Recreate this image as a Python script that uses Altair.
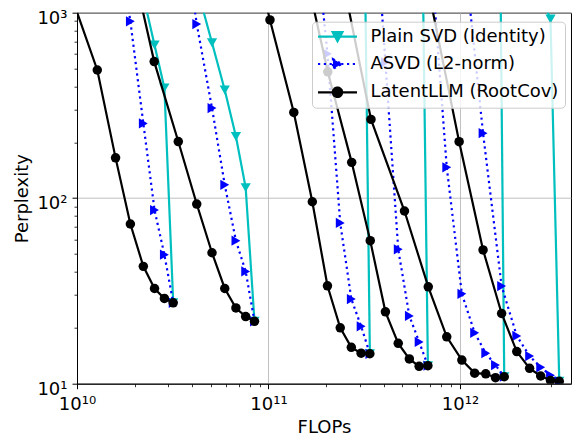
import altair as alt
import pandas as pd

FONT = "DejaVu Sans"

methods = ["Plain SVD (Identity)", "ASVD (L2-norm)", "LatentLLM (RootCov)"]
colors = ["#00bfbf", "#0000ff", "#000000"]

# FLOPs / perplexity per model size (one inner list per model)
plain_flops = [
    [2.22e10, 2.54e10, 2.86e10, 3.18e10],
    [4.22e10, 5.07e10, 5.91e10, 6.76e10, 7.60e10, 8.45e10],
    [2.95e11, 3.384e11],
    [5.90e11, 6.80e11],
    [1.533e12, 1.703e12],
    [2.64e12, 2.97e12, 3.30e12],
]
plain_ppl = [
    [1230, 670, 393, 27.3],
    [1380, 689, 383, 215, 114, 21.7],
    [1e6, 14.5],
    [1e6, 12.5],
    [1e6, 10.9],
    [1230, 925, 10.3],
]
asvd_flops = [
    [1.59e10, 1.90e10, 2.22e10, 2.54e10, 2.86e10, 3.18e10],
    [3.38e10, 4.22e10, 5.07e10, 5.91e10, 6.76e10, 7.60e10, 8.45e10],
    [1.694e11, 2.032e11, 2.37e11, 2.708e11, 3.046e11, 3.384e11],
    [3.40e11, 4.08e11, 4.76e11, 5.44e11, 6.12e11, 6.80e11],
    [6.83e11, 8.53e11, 1.023e12, 1.193e12, 1.363e12, 1.533e12, 1.703e12],
    [0.99e12, 1.32e12, 1.65e12, 1.98e12, 2.31e12, 2.64e12, 2.97e12, 3.30e12],
]
asvd_ppl = [
    [3000, 898, 253, 86.3, 49.6, 27.3],
    [4500, 869, 306, 118, 59.0, 40.3, 21.7],
    [3900, 600, 73.5, 28.6, 20.4, 14.5],
    [8500, 540, 53.0, 23.2, 16.8, 12.5],
    [3200, 146.8, 30.5, 18.8, 14.6, 12.6, 10.9],
    [3850, 224, 33.6, 18.1, 14.1, 12.25, 11.1, 10.3],
]
latent_flops = [
    [0.956e10, 1.276e10, 1.59e10, 1.90e10, 2.22e10, 2.54e10, 2.86e10, 3.18e10],
    [1.69e10, 2.53e10, 3.38e10, 4.22e10, 5.07e10, 5.91e10, 6.76e10, 7.60e10, 8.45e10],
    [0.68e11, 1.018e11, 1.356e11, 1.694e11, 2.032e11, 2.37e11, 2.708e11, 3.046e11, 3.384e11],
    [1.36e11, 2.04e11, 2.72e11, 3.40e11, 4.08e11, 4.76e11, 5.44e11, 6.12e11, 6.80e11],
    [1.73e11, 3.43e11, 5.13e11, 6.83e11, 8.53e11, 1.023e12, 1.193e12, 1.363e12, 1.533e12, 1.703e12],
    [0.66e12, 0.99e12, 1.32e12, 1.65e12, 1.98e12, 2.31e12, 2.64e12, 2.97e12, 3.30e12],
]
latent_ppl = [
    [1150, 491, 165, 72.6, 42.9, 32.6, 28.8, 27.3],
    [3450, 545, 202, 93.0, 50.8, 32.6, 25.6, 23.0, 21.7],
    [5000, 914, 290, 95.7, 33.7, 20.0, 15.7, 14.6, 14.5],
    [3160, 480, 156, 59.0, 24.4, 16.5, 13.6, 12.4, 12.5],
    [8780, 266, 85.3, 33.3, 17.9, 13.4, 11.4, 11.3, 10.77, 10.9],
    [1600, 201.7, 52.6, 23.9, 14.9, 12.1, 11.0, 10.4, 10.3],
]

x_major = [1e10, 1e11, 1e12]
x_minor = [2e10, 3e10, 4e10, 5e10, 6e10, 7e10, 8e10, 9e10,
           2e11, 3e11, 4e11, 5e11, 6e11, 7e11, 8e11, 9e11, 2e12, 3e12]
y_major = [10, 100, 1000]
y_minor = [20, 30, 40, 50, 60, 70, 80, 90, 200, 300, 400, 500, 600, 700, 800, 900]


def frame(flops, ppl):
    rows = []
    for g, (xs, ys) in enumerate(zip(flops, ppl)):
        for i, (x, y) in enumerate(zip(xs, ys)):
            rows.append({"group": g, "idx": i, "flops": x, "ppl": y})
    return pd.DataFrame(rows)


df_plain = frame(plain_flops, plain_ppl)
df_asvd = frame(asvd_flops, asvd_ppl)
df_latent = frame(latent_flops, latent_ppl)

W, H = 494, 371
xscale = alt.Scale(type="log", domain=[1e10, 3.8e12], nice=False)
yscale = alt.Scale(type="log", domain=[10, 1000], nice=False)

SUP = ("'10' + ['⁰','¹','²','³','⁴','⁵','⁶','⁷','⁸','⁹','¹⁰','¹¹','¹²','¹³']"
       "[round(log(datum.value)/LN10)]")

common = dict(tickColor="black", tickWidth=1, domainColor="black", domainWidth=1,
              labelFont=FONT, labelFontSize=18, labelColor="black",
              titleFont=FONT, titleFontSize=18, titleFontWeight="normal",
              titleColor="black")

ax_x_major = alt.Axis(orient="bottom", values=x_major, labelExpr=SUP, tickSize=5,
                      labelPadding=7, grid=True, gridColor="#b0b0b0", gridWidth=0.8,
                      labelFlush=False, labelOverlap=False,
                      titleX=W / 2, titleY=48.5, titleAlign="center",
                      titleBaseline="alphabetic", **common)
ax_x_minor = alt.Axis(orient="bottom", values=x_minor, labels=False, tickSize=3,
                      grid=False, domain=False, tickColor="black", tickWidth=0.8)
ax_y_major = alt.Axis(orient="left", values=y_major, labelExpr=SUP, tickSize=5,
                      labelPadding=5, labelOffset=5.5, grid=True, gridColor="#b0b0b0",
                      gridWidth=0.8, labelFlush=False, labelOverlap=False,
                      titleX=-55, titleY=H / 2, titleAngle=270, titleAlign="center",
                      titleBaseline="middle", **common)
ax_y_minor = alt.Axis(orient="left", values=y_minor, labels=False, tickSize=3,
                      grid=False, domain=False, tickColor="black", tickWidth=0.8)


def enc(xaxis, yaxis, xtitle="FLOPs", ytitle="Perplexity"):
    return dict(
        x=alt.X("flops:Q", scale=xscale, axis=xaxis, title=xtitle),
        y=alt.Y("ppl:Q", scale=yscale, axis=yaxis, title=ytitle),
    )


LW = 2.2
plain_line = alt.Chart(df_plain).mark_line(clip=True, color=colors[0], strokeWidth=LW).encode(
    detail="group:N", order="idx:Q", **enc(ax_x_major, ax_y_major))
plain_pts = alt.Chart(df_plain).mark_point(clip=True, filled=True, opacity=1, color=colors[0],
                                           shape="triangle-down", size=105).encode(
    **enc(ax_x_minor, ax_y_minor, None, None))
asvd_line = alt.Chart(df_asvd).mark_line(clip=True, color=colors[1], strokeWidth=LW,
                                         strokeDash=[2.2, 3.6], strokeCap="butt").encode(
    detail="group:N", order="idx:Q", **enc(None, None))
asvd_pts = alt.Chart(df_asvd).mark_point(clip=True, filled=True, opacity=1, color=colors[1],
                                         shape="triangle-right", size=105).encode(
    **enc(None, None))
latent_line = alt.Chart(df_latent).mark_line(clip=True, color=colors[2], strokeWidth=LW).encode(
    detail="group:N", order="idx:Q", **enc(None, None))
latent_pts = alt.Chart(df_latent).mark_point(clip=True, filled=True, opacity=1, color=colors[2],
                                             shape="circle", size=90).encode(
    **enc(None, None))

# legend symbols: line segment with the marker in the middle
paths = [
    "M-3,0H3M-0.75,-0.7L0.75,-0.7L0,0.7Z",
    "M-3,0H3M-0.7,-0.75L0.7,0L-0.7,0.75Z",
    "M-3,0H3M0.72,0A0.72,0.72,0,1,1,-0.72,0A0.72,0.72,0,1,1,0.72,0Z",
]
leg = alt.Legend(title=None, orient="none", legendX=235, legendY=9, direction="vertical",
                 fillColor="rgba(255,255,255,0.8)", strokeColor="#cccccc", cornerRadius=4,
                 padding=6, rowPadding=8.3, labelOffset=24, symbolOffset=10.5,
                 symbolSize=169, symbolStrokeWidth=LW, symbolOpacity=1,
                 labelFont=FONT, labelFontSize=18, labelColor="black", labelLimit=400,
                 labelExpr="datum.label + '\u00a0\u00a0\u2009'")
legend_df = pd.DataFrame({"method": methods})
legend_layer = alt.Chart(legend_df).mark_point(filled=True, clip=True, opacity=1, size=169,
                                               strokeWidth=LW).encode(
    x=alt.value(-300), y=alt.value(-300),
    shape=alt.Shape("method:N", scale=alt.Scale(domain=methods, range=paths), legend=leg),
    fill=alt.Fill("method:N", scale=alt.Scale(domain=methods, range=colors), legend=leg),
    stroke=alt.Stroke("method:N", scale=alt.Scale(domain=methods, range=colors), legend=leg),
    strokeDash=alt.StrokeDash("method:N",
                              scale=alt.Scale(domain=methods, range=[[1, 0], [2.2, 3.6], [1, 0]]),
                              legend=leg),
)

chart = alt.layer(
    plain_line, plain_pts, asvd_line, asvd_pts, latent_line, latent_pts, legend_layer
).resolve_axis(x="independent", y="independent").properties(
    width=W, height=H,
    autosize=alt.AutoSizeParams(type="none"),
    padding={"left": 69, "top": 4.7, "right": 2, "bottom": 52},
    background="white",
).configure_view(stroke="black", strokeWidth=1)

chart.save("out.html", embed_options={"renderer": "svg", "actions": False})
